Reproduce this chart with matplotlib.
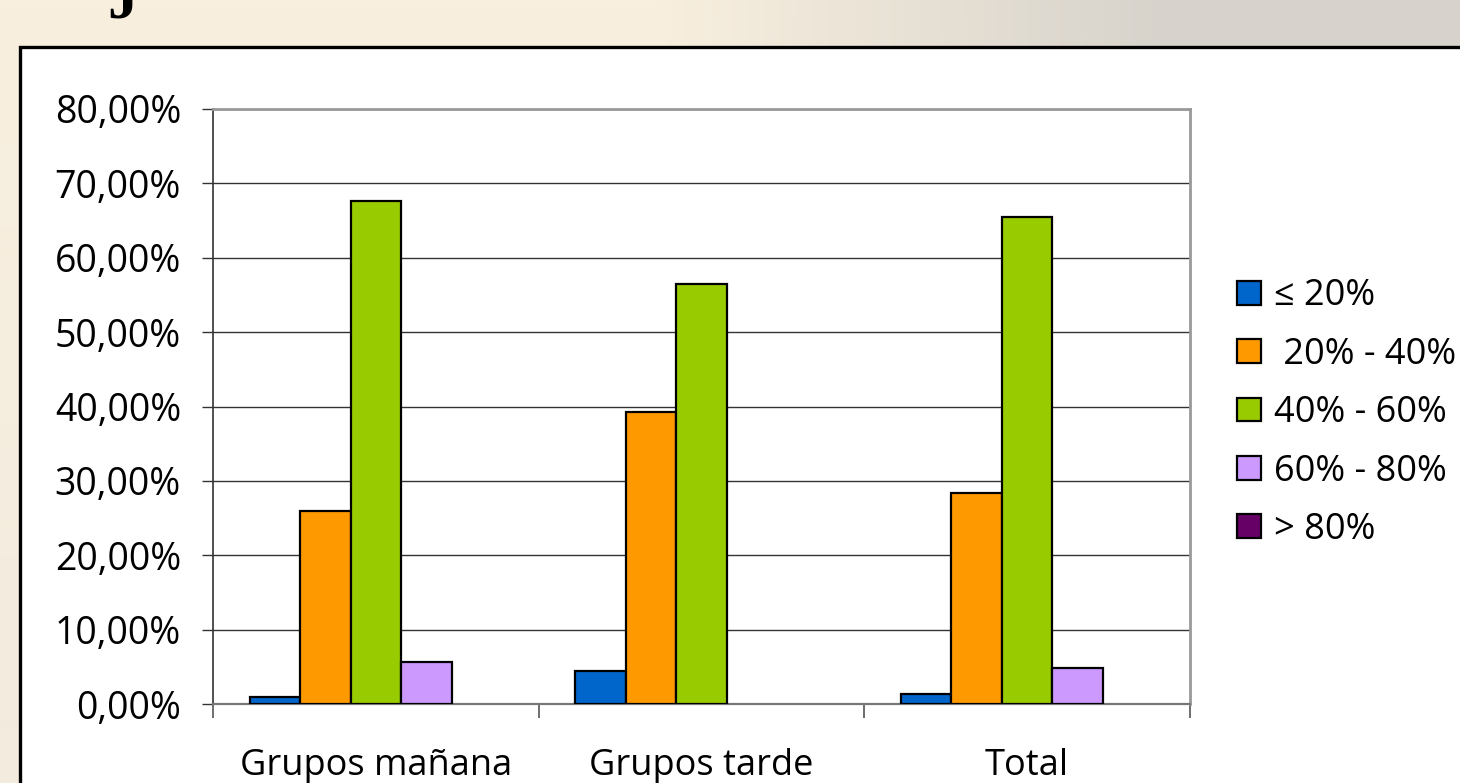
import numpy as np
import matplotlib
matplotlib.use("Agg")
import matplotlib.pyplot as plt
from matplotlib.patches import Rectangle

# data
categories = ["Grupos mañana", "Grupos tarde", "Total"]
series_names = ["≤ 20%", " 20% - 40%", "40% - 60%", "60% - 80%", "> 80%"]
le_20 = [0.9, 4.4, 1.4]
p20_40 = [25.9, 39.3, 28.4]
p40_60 = [67.6, 56.5, 65.5]
p60_80 = [5.7, 0.0, 4.8]
gt_80 = [0.0, 0.0, 0.0]
y_ticks = [0, 10, 20, 30, 40, 50, 60, 70, 80]

colors = ["#0066CC", "#FF9900", "#99CC00", "#CC99FF", "#660066"]

W, H = 1460, 783
fig = plt.figure(figsize=(W / 100, H / 100), dpi=100)

# background: beige -> grey gradient behind the chart box
bg = fig.add_axes([0, 0, 1, 1], zorder=-10)
bg.set_axis_off()
xs = np.linspace(0, 1, 300)
c_left = np.array([248, 239, 222]) / 255
c_right = np.array([215, 211, 204]) / 255
t = np.clip((xs - 0.45) / 0.35, 0, 1)[None, :, None]
rows = np.linspace(0, 1, 100)[:, None, None]
grad = c_left * (1 - t) + c_right * t
grad = grad * (1 - 0.35 * rows * (1 - t)) + (np.array([232, 229, 222]) / 255) * 0.35 * rows * (1 - t)
bg.imshow(grad, extent=[0, 1, 0, 1], aspect="auto", origin="upper")
bg.set_xlim(0, 1)
bg.set_ylim(0, 1)

# fragment of the slide title, cut off at the top
fig.text(123 / W, 1 - 18 / H, "J", family="Liberation Serif", weight="bold",
         fontsize=44, ha="center", va="baseline")

# white chart box with black border
fig.patches.append(Rectangle((20 / W, -0.05), 1.1, 1 - 47 / H + 0.05,
                             transform=fig.transFigure, facecolor="white",
                             edgecolor="black", linewidth=2.4, zorder=-5))

ax = fig.add_axes([213 / W, 1 - 704 / H, (1190 - 213) / W, (704 - 109) / H])
ax.set_facecolor("none")

x = np.arange(len(categories))
bw = 0.155
all_series = [le_20, p20_40, p40_60, p60_80, gt_80]
handles = []
for i, (vals, col, name) in enumerate(zip(all_series, colors, series_names)):
    lw = [1.6 if v > 0 else 0 for v in vals]
    ax.bar(x + (i - 2) * bw, vals, width=bw, color=col, edgecolor="black",
           linewidth=lw, label=name, zorder=3)
    handles.append(Rectangle((0, 0), 1, 1, facecolor=col, edgecolor="black", linewidth=1.6))

ax.set_xlim(-0.5, 2.5)
ax.set_ylim(0, 80)
ax.set_yticks(y_ticks)
ax.set_yticklabels([f"{v},00%" for v in y_ticks])
ax.yaxis.grid(True, color="#333333", linewidth=1.0, zorder=0)

ax.set_xticks([-0.5, 0.5, 1.5, 2.5])
ax.set_xticklabels([])
ax.set_xticks(x, minor=True)
ax.set_xticklabels(categories, minor=True)
ax.tick_params(axis="x", which="major", length=10, width=1.2, color="#555555")
ax.tick_params(axis="x", which="minor", length=0, pad=32, labelsize=26)
ax.tick_params(axis="y", length=8, width=1.0, color="#333333", pad=15, labelsize=27)
for lab in ax.get_xticklabels(minor=True) + ax.get_yticklabels():
    lab.set_family("Open Sans")

ax.spines["left"].set_color("#333333")
ax.spines["left"].set_linewidth(1.2)
ax.spines["bottom"].set_color("#777777")
ax.spines["bottom"].set_linewidth(1.6)
ax.spines["top"].set_color("#999999")
ax.spines["top"].set_linewidth(2)
ax.spines["right"].set_color("#999999")
ax.spines["right"].set_linewidth(2)

fig.legend(handles=handles, labels=series_names, loc="upper left",
           bbox_to_anchor=(1223 / W, 1 - 264 / H), frameon=False, borderaxespad=0,
           handlelength=0.64, handleheight=0.64, handletextpad=0.36,
           labelspacing=0.62, prop={"family": "Open Sans", "size": 26})

fig.savefig("out.png", dpi=100)
